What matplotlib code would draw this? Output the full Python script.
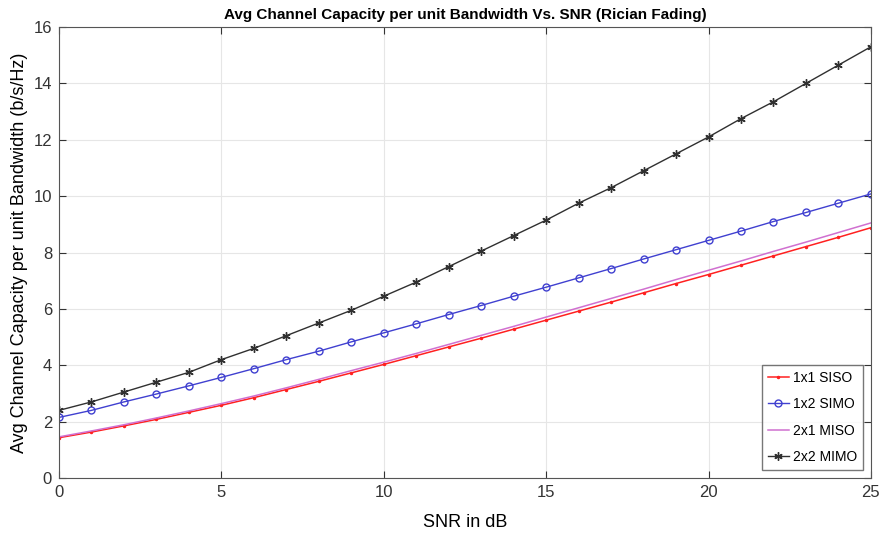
import numpy as np
import matplotlib.pyplot as plt

snr_db = list(range(0, 26))

siso = [1.43, 1.63, 1.85, 2.08, 2.33, 2.58, 2.85, 3.14, 3.43, 3.73, 4.03, 4.34, 4.65,
        4.96, 5.28, 5.60, 5.92, 6.24, 6.57, 6.90, 7.22, 7.55, 7.88, 8.21, 8.54, 8.88]
simo = [2.15, 2.40, 2.70, 2.98, 3.27, 3.57, 3.88, 4.20, 4.50, 4.83, 5.15, 5.47, 5.80,
        6.12, 6.45, 6.77, 7.10, 7.43, 7.77, 8.10, 8.43, 8.76, 9.10, 9.42, 9.75, 10.08]
miso = [1.46, 1.67, 1.89, 2.13, 2.38, 2.64, 2.91, 3.20, 3.50, 3.81, 4.11, 4.42, 4.74,
        5.06, 5.38, 5.71, 6.04, 6.37, 6.70, 7.04, 7.37, 7.70, 8.04, 8.37, 8.71, 9.05]
mimo = [2.40, 2.70, 3.05, 3.40, 3.75, 4.20, 4.60, 5.05, 5.50, 5.95, 6.45, 6.95, 7.50,
        8.05, 8.60, 9.15, 9.75, 10.30, 10.90, 11.50, 12.10, 12.75, 13.35, 14.00, 14.65, 15.30]

plt.rcParams['font.family'] = ['Liberation Sans', 'DejaVu Sans']

fig = plt.figure(figsize=(8.84, 5.35), dpi=100)
ax = fig.add_axes([0.0667, 0.1065, 0.9185, 0.843])

ax.plot(snr_db, siso, color='#ff2020', marker='.', markersize=3, linewidth=1.1, label='1x1 SISO')
ax.plot(snr_db, simo, color='#4040d0', marker='o', markersize=5, markerfacecolor='none',
        linewidth=1.0, label='1x2 SIMO')
ax.plot(snr_db, miso, color='#d070d0', linewidth=1.1, label='2x1 MISO')
# MATLAB-style asterisk marker
ax.plot(snr_db, mimo, color='#303030', marker=(6, 2, 0), markersize=6, markeredgewidth=1.0,
        linewidth=1.0, label='2x2 MIMO')

ax.set_xlim(0, 25)
ax.set_ylim(0, 16)
ax.set_xticks([0, 5, 10, 15, 20, 25])
ax.set_yticks(np.arange(0, 17, 2))
ax.grid(True, color='#e6e6e6', linewidth=0.8)
ax.tick_params(direction='in', labelsize=12, length=5, top=True, right=True,
               colors='#333333', pad=5)
for s in ax.spines.values():
    s.set_color('#555555')

ax.set_title('Avg Channel Capacity per unit Bandwidth Vs. SNR (Rician Fading)',
             fontsize=11, fontweight='bold')
ax.set_xlabel('SNR in dB', fontsize=13, labelpad=10)
ax.set_ylabel('Avg Channel Capacity per unit Bandwidth (b/s/Hz)', fontsize=13)

ax.legend(loc='lower right', fontsize=10, fancybox=False, edgecolor='#555555',
          handlelength=1.5, handletextpad=0.3, labelspacing=0.9, borderaxespad=0.6)

fig.savefig('out.png', dpi=100)
